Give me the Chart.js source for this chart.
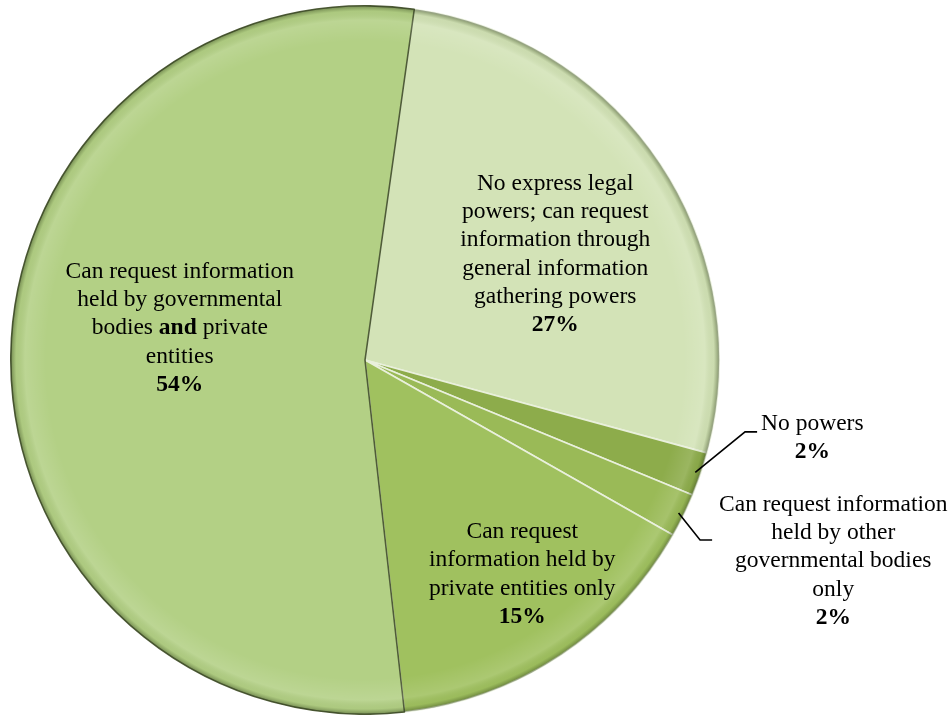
<!DOCTYPE html>
<html>
<head>
<meta charset="utf-8">
<script src="https://cdn.jsdelivr.net/npm/chart.js@4.4.0/dist/chart.umd.min.js"></script>
<style>
  html, body { margin: 0; padding: 0; background: #fff; }
  #wrap { width: 951px; height: 715px; }
</style>
</head>
<body>
<div id="wrap"><canvas id="powersPie"></canvas></div>
<script>
// data
const categories = [
  'No express legal powers; can request information through general information gathering powers',
  'No powers',
  'Can request information held by other governmental bodies only',
  'Can request information held by private entities only',
  'Can request information held by governmental bodies and private entities'
];
const shares = [27, 2, 2, 15, 54];
const sliceColors = ['#d3e3b7', '#8dac4b', '#9aba57', '#a0c15f', '#b3d085'];
const edgeColors = ['#e9f0dc', '#e9f0dc', '#e9f0dc', '#e9f0dc', '#4f5c38'];

// label text, *word* = bold
const labelLines = [
  ['No express legal', 'powers; can request', 'information through', 'general information', 'gathering powers', '*27%*'],
  ['No powers', '*2%*'],
  ['Can request information', 'held by other', 'governmental bodies', 'only', '*2%*'],
  ['Can request', 'information held by', 'private entities only', '*15%*'],
  ['Can request information', 'held by governmental', 'bodies *and* private', 'entities', '*54%*']
];

// label placement, in radius units from pie centre
const labelPlace = [
  { x: 0.537, y: -0.298 },
  { x: 1.263, y: 0.22 },
  { x: 1.322, y: 0.568 },
  { x: 0.444, y: 0.605 },
  { x: -0.523, y: -0.09 }
];
// leader lines (elbow + end) for outside labels
const leaders = {
  1: [{ x: 1.073, y: 0.203 }, { x: 1.107, y: 0.203 }],
  2: [{ x: 0.946, y: 0.508 }, { x: 0.98, y: 0.508 }]
};

const FONT = '"Liberation Serif", "Times New Roman", serif';
const FSIZE = 23.5;
const LINE_H = 28.3;

function drawRich(ctx, line, cx, cy) {
  const parts = line.split('*');
  let total = 0;
  parts.forEach((p, i) => {
    ctx.font = (i % 2 ? 'bold ' : '') + FSIZE + 'px ' + FONT;
    total += ctx.measureText(p).width;
  });
  let x = cx - total / 2;
  parts.forEach((p, i) => {
    ctx.font = (i % 2 ? 'bold ' : '') + FSIZE + 'px ' + FONT;
    ctx.fillText(p, x, cy);
    x += ctx.measureText(p).width;
  });
}

const bevel = {
  id: 'bevel',
  afterDatasetsDraw(chart) {
    const ctx = chart.ctx;
    const arcs = chart.getDatasetMeta(0).data;
    const a0 = arcs[0];
    const cx = a0.x, cy = a0.y, r = a0.outerRadius;
    ctx.save();
    // rim shading
    const g = ctx.createRadialGradient(cx, cy, r * 0.9, cx, cy, r);
    g.addColorStop(0, 'rgba(255,255,255,0)');
    g.addColorStop(0.6, 'rgba(255,255,255,0.12)');
    g.addColorStop(0.85, 'rgba(60,80,30,0.05)');
    g.addColorStop(1, 'rgba(40,55,20,0.45)');
    ctx.fillStyle = g;
    ctx.beginPath();
    ctx.arc(cx, cy, r, 0, Math.PI * 2);
    ctx.fill();
    ctx.restore();
  }
};

const pieLabels = {
  id: 'pieLabels',
  afterDraw(chart) {
    const ctx = chart.ctx;
    const arcs = chart.getDatasetMeta(0).data;
    const cx = arcs[0].x, cy = arcs[0].y, r = arcs[0].outerRadius;
    ctx.save();
    ctx.fillStyle = '#000';
    ctx.textBaseline = 'middle';
    labelLines.forEach((lines, i) => {
      const px = cx + labelPlace[i].x * r;
      const py = cy + labelPlace[i].y * r;
      const top = py - (lines.length - 1) * LINE_H / 2;
      lines.forEach((ln, k) => drawRich(ctx, ln, px, top + k * LINE_H));
      if (leaders[i]) {
        const arc = arcs[i];
        const mid = (arc.startAngle + arc.endAngle) / 2;
        const sx = cx + Math.cos(mid) * r * 0.985;
        const sy = cy + Math.sin(mid) * r * 0.985;
        ctx.strokeStyle = '#000';
        ctx.lineWidth = 1.6;
        ctx.beginPath();
        ctx.moveTo(sx, sy);
        leaders[i].forEach(p => ctx.lineTo(cx + p.x * r, cy + p.y * r));
        ctx.stroke();
      }
    });
    ctx.restore();
  }
};

const ctx = document.getElementById('powersPie');
const myChart = new Chart(ctx, {
  type: 'pie',
  data: {
    labels: categories,
    datasets: [{
      data: shares,
      backgroundColor: sliceColors,
      borderColor: edgeColors,
      borderWidth: 1.6
    }]
  },
  options: {
    responsive: true,
    maintainAspectRatio: false,
    animation: false,
    rotation: 8,
    layout: { padding: { left: 10, right: 231, top: 5, bottom: 0 } },
    plugins: {
      legend: { display: false },
      tooltip: { enabled: false }
    }
  },
  plugins: [bevel, pieLabels]
});
</script>
</body>
</html>
